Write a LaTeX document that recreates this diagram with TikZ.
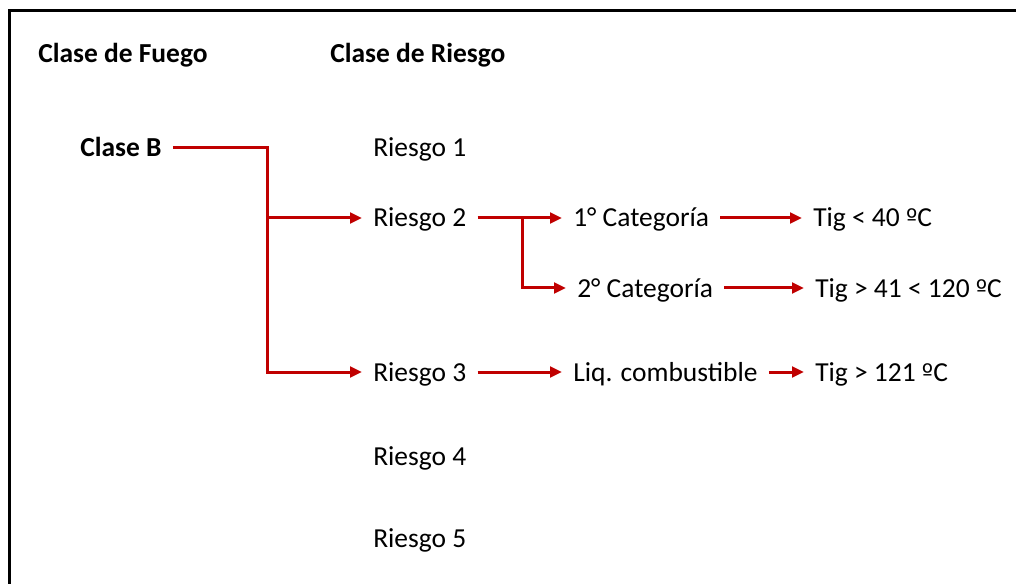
\documentclass[tikz,border=0pt]{standalone}
\usepackage{fontspec}
\setmainfont{Carlito}
\newfontfamily\ordfont{DejaVu Sans}
\newcommand{\ordo}{{\ordfont\fontsize{18}{24}\selectfont º}}
\usetikzlibrary{arrows.meta}
\definecolor{darkred}{HTML}{C00000}
\begin{document}
\begin{tikzpicture}[x=0.75pt,y=-0.75pt,
  lbl/.style={anchor=base west,inner sep=0pt,text height=13.5pt,text depth=0pt,
    font=\fontsize{20.6}{24}\selectfont},
  hdr/.style={lbl,font=\fontsize{20.6}{24}\selectfont\bfseries},
  conn/.style={draw=darkred,line width=2.25pt,shorten <=8.25pt,shorten >=8.25pt},
  arr/.style={conn,-{Triangle[length=9pt,width=8pt]}}]
\useasboundingbox (0,0) rectangle (1016,584);
\draw[line width=1.6pt] (9.5,584) -- (9.5,10.5) -- (1016,10.5);
% headers
\node[hdr] (hf) at (38,63) {Clase de Fuego};
\node[hdr] (hr) at (330,63) {Clase de Riesgo};
\node[hdr] (cb) at (80,157) {Clase B};
% risks
\node[lbl] (r1) at (373,157) {Riesgo 1};
\node[lbl] (r2) at (373,227) {Riesgo 2};
\node[lbl] (r3) at (373,381) {Riesgo 3};
\node[lbl] (r4) at (373,465) {Riesgo 4};
\node[lbl] (r5) at (373,547) {Riesgo 5};
% categories
\node[lbl] (c1) at (573,227) {1° Categoría};
\node[lbl] (c2) at (577,297) {2° Categoría};
\node[lbl] (lq) at (573,381) {Liq. combustible};
\node[lbl] (t1) at (813,227) {Tig < 40 \ordo C};
\node[lbl] (t2) at (815,297) {Tig > 41 < 120 \ordo C};
\node[lbl] (t3) at (815,381) {Tig > 121 \ordo C};
% junctions
\coordinate (j1) at (267,0);
\coordinate (j2) at (522,0);
% connectors
\draw[arr] (cb.east) -| (j1 |- r3.west) -- (r3.west);
\draw[arr,shorten <=0pt] (j1 |- r2.west) -- (r2.west);
\draw[arr] (r2.east) -- (c1.west);
\draw[arr,shorten <=0pt] (j2 |- r2.east) |- (c2.west);
\draw[arr] (c1.east) -- (t1.west);
\draw[arr] (c2.east) -- (t2.west);
\draw[arr] (r3.east) -- (lq.west);
\draw[arr] (lq.east) -- (t3.west);
\end{tikzpicture}
\end{document}
